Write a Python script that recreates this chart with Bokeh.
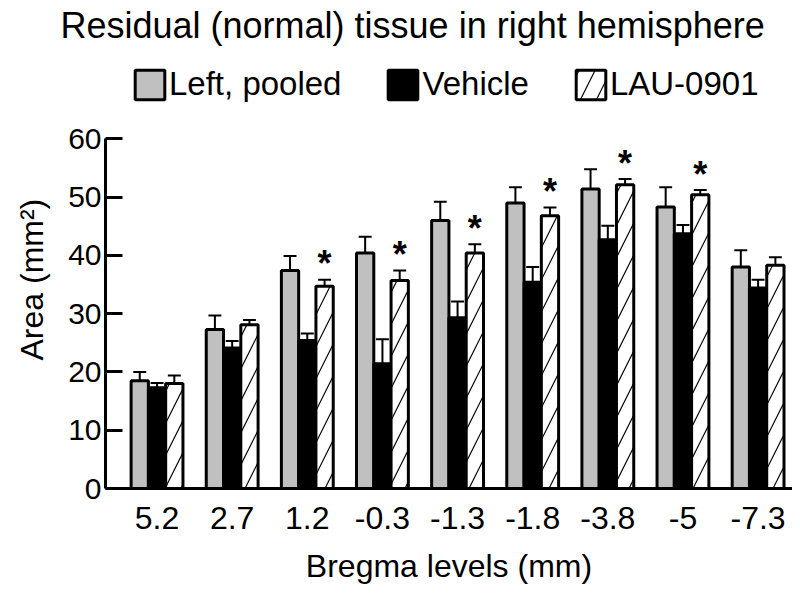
import numpy as np
from bokeh.plotting import figure
from bokeh.models import Range1d, FixedTicker, Legend, LegendItem, Title
from bokeh.core.properties import value
from bokeh.embed import file_html
from bokeh.resources import INLINE

# ---- data ----
bregma_levels = ["5.2", "2.7", "1.2", "-0.3", "-1.3", "-1.8", "-3.8", "-5", "-7.3"]
series_names = ["Left, pooled", "Vehicle", "LAU-0901"]
left_pooled = [18.5, 27.3, 37.4, 40.4, 46.0, 49.0, 51.4, 48.3, 38.0]
left_pooled_sem = [1.5, 2.4, 2.5, 2.8, 3.2, 2.7, 3.4, 3.4, 2.9]
vehicle = [17.3, 24.1, 25.4, 21.4, 29.3, 35.4, 42.7, 43.7, 34.4]
vehicle_sem = [0.8, 1.2, 1.2, 4.2, 2.8, 2.6, 2.4, 1.5, 1.4]
lau0901 = [18.0, 28.1, 34.7, 35.7, 40.4, 46.8, 52.1, 50.4, 38.3]
lau0901_sem = [1.4, 0.8, 1.1, 1.7, 1.5, 1.4, 1.0, 0.8, 1.4]
significant = [False, False, True, True, True, True, True, True, False]
y_ticks = [0, 10, 20, 30, 40, 50, 60]

FONT = "Liberation Sans"
n = len(bregma_levels)
centers = np.arange(n) + 0.5
bw = 0.23
cap = 0.086

p = figure(width=792, height=587, output_backend="svg", toolbar_location=None,
           x_range=Range1d(-0.186, 8.958), y_range=Range1d(0, 75.5),
           min_border_left=102, min_border_right=0, min_border_top=48, min_border_bottom=99)
p.outline_line_color = None
p.grid.visible = False

# title
p.title = Title(text="Residual (normal) tissue in right hemisphere", align="left",
                offset=-45, standoff=5, text_font=FONT, text_font_size="36px",
                text_font_style="normal", text_color="black")

# y-axis label (as a side title so it can be positioned like the reference)
p.add_layout(Title(text="Area (mm²)", align="left", offset=128, vertical_align="top",
                   standoff=27, text_font=FONT, text_font_size="32px",
                   text_font_style="normal", text_color="black"), "left")

# axes
p.xaxis.ticker = FixedTicker(ticks=list(centers))
p.xaxis.major_label_overrides = {float(c): lbl for c, lbl in zip(centers, bregma_levels)}
p.xaxis.major_tick_line_color = None
p.xaxis.minor_tick_line_color = None
p.xaxis.axis_line_width = 3
p.xaxis.axis_line_color = "black"
p.xaxis.major_label_text_font = FONT
p.xaxis.major_label_text_font_size = "32px"
p.xaxis.major_label_text_color = "black"
p.xaxis.major_label_standoff = 12
p.xaxis.axis_label = "Bregma levels (mm)"
p.xaxis.axis_label_text_font = FONT
p.xaxis.axis_label_text_font_size = "32px"
p.xaxis.axis_label_text_font_style = "normal"
p.xaxis.axis_label_text_color = "black"
p.xaxis.axis_label_standoff = 16

p.yaxis.bounds = (0, 60)
p.yaxis.ticker = FixedTicker(ticks=y_ticks)
p.yaxis.major_tick_in = 17
p.yaxis.major_tick_out = 0
p.yaxis.major_tick_line_width = 3
p.yaxis.major_tick_line_color = "black"
p.yaxis.minor_tick_line_color = None
p.yaxis.axis_line_width = 3
p.yaxis.axis_line_color = "black"
p.yaxis.major_label_text_font = FONT
p.yaxis.major_label_text_font_size = "30px"
p.yaxis.major_label_text_color = "black"
p.yaxis.major_label_standoff = 4

# bars
r1 = p.vbar(x=centers - bw, top=left_pooled, width=bw, fill_color="#c0c0c0",
            line_color="black", line_width=3)
r2 = p.vbar(x=centers, top=vehicle, width=bw, fill_color="black",
            line_color="black", line_width=3)
r3 = p.vbar(x=centers + bw, top=lau0901, width=bw, fill_color="white",
            hatch_pattern="/", hatch_color="black", hatch_weight=1.2, hatch_scale=32,
            line_color="black", line_width=3)

# error bars
for off, vals, errs in [(-bw, left_pooled, left_pooled_sem),
                        (0.0, vehicle, vehicle_sem),
                        (bw, lau0901, lau0901_sem)]:
    xs = centers + off
    up = [v + e for v, e in zip(vals, errs)]
    p.segment(x0=xs, y0=vals, x1=xs, y1=up, line_color="black", line_width=2)
    p.segment(x0=xs - cap, y0=up, x1=xs + cap, y1=up, line_color="black", line_width=2)

# significance stars
sx = [c + bw for c, s in zip(centers, significant) if s]
sy = [v + e for v, e, s in zip(lau0901, lau0901_sem, significant) if s]
p.text(x=sx, y=sy, text=["*"] * len(sx), text_align="center", text_baseline="alphabetic",
       y_offset=-16, text_font_size="36px", text_font_style="bold", text_color="black",
       text_font=value(FONT))

# legend
legend = Legend(items=[LegendItem(label=series_names[0], renderers=[r1]),
                       LegendItem(label=series_names[1], renderers=[r2]),
                       LegendItem(label=series_names[2], renderers=[r3])],
                orientation="horizontal", location=(26, 385),
                glyph_width=37, glyph_height=37, label_standoff=1, spacing=43,
                padding=0, margin=0, border_line_color=None, background_fill_alpha=0,
                label_text_font=FONT, label_text_font_size="33px", label_text_color="black")
p.add_layout(legend)

open("out.html", "w").write(file_html(p, INLINE))
